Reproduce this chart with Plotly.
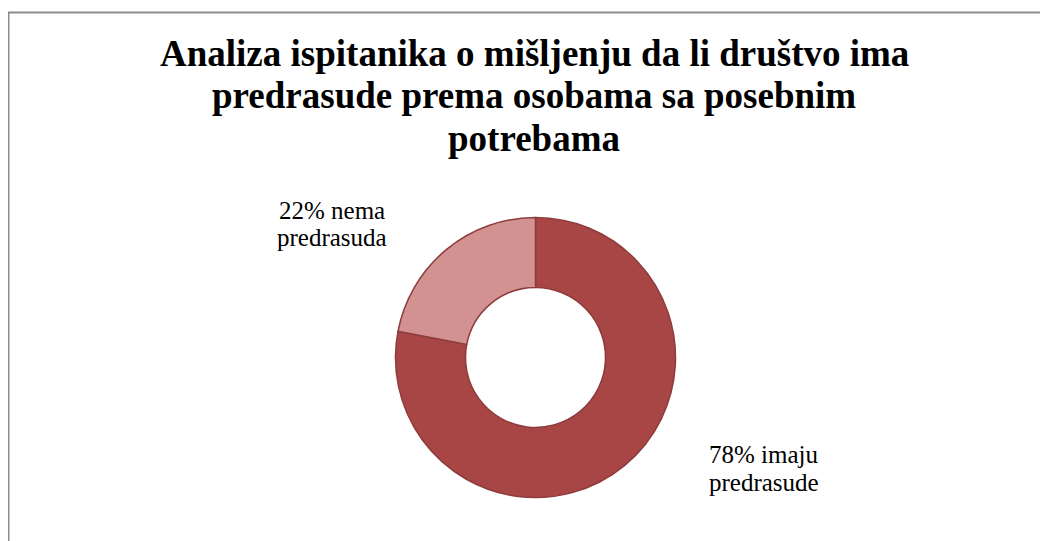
import plotly.graph_objects as go

categories = ["imaju predrasude", "nema predrasuda"]
label_lines = [["imaju", "predrasude"], ["nema", "predrasuda"]]
values = [78, 22]
colors = ["#A84646", "#D39292"]
title_lines = [
    "Analiza ispitanika o mišljenju da li društvo ima",
    "predrasude prema osobama sa posebnim",
    "potrebama",
]

W, H = 1048, 541
OFF = 8  # page body margin offset (display px -> figure px)

def px_x(x):
    return (x - OFF) / W

def px_y(y):
    return 1 - (y - OFF) / H

fig = go.Figure()
fig.add_trace(go.Pie(
    labels=categories,
    values=values,
    hole=0.5,
    sort=False,
    direction="clockwise",
    rotation=0,
    marker=dict(colors=colors, line=dict(color="#8E3B3B", width=1.5)),
    textinfo="none",
    hoverinfo="label+percent",
    showlegend=False,
    domain=dict(x=[px_x(395.5), px_x(675.5)], y=[px_y(497.5), px_y(217.5)]),
))

annotations = []

# slice labels: (center x, baseline of line 1, baseline of line 2)
label_pos = [(764, 465, 493), (332, 221, 248)]
LS = 25
for (cx, b1, b2), v, lines in zip(label_pos, values, label_lines):
    for txt, b in ((f"{v}% {lines[0]}", b1), (lines[1], b2)):
        annotations.append(dict(
            text=txt, x=px_x(cx), y=px_y(b - 1.03 * LS),
            xref="paper", yref="paper",
            xanchor="center", yanchor="top", align="center",
            showarrow=False,
            font=dict(family="Liberation Serif", size=LS, color="#000000"),
        ))

TS = 37
title_baselines = [69, 111, 154]
for txt, b in zip(title_lines, title_baselines):
    annotations.append(dict(
        text="<b>" + txt + "</b>",
        x=px_x(534), y=px_y(b - 1.03 * TS), xref="paper", yref="paper",
        xanchor="center", yanchor="top", align="center",
        showarrow=False,
        font=dict(family="Liberation Serif", size=TS, color="#000000"),
    ))

fig.update_layout(
    width=W, height=H,
    margin=dict(l=0, r=0, t=0, b=0),
    paper_bgcolor="#FFFFFF",
    plot_bgcolor="#FFFFFF",
    annotations=annotations,
    shapes=[dict(
        type="rect", xref="paper", yref="paper",
        x0=px_x(8.5), y0=-0.05, x1=1.05, y1=px_y(12.5),
        line=dict(color="#8C8C8C", width=2),
        fillcolor="rgba(0,0,0,0)",
    )],
)

fig.write_html("out.html")
